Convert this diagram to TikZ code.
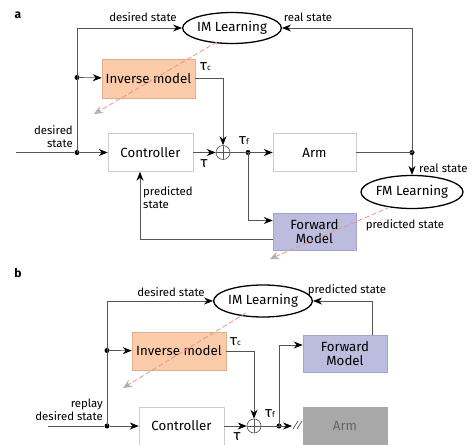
\documentclass[tikz,border=0pt]{standalone}
\usepackage{fontspec}
\setmainfont{Fira Sans}
\usetikzlibrary{arrows.meta,shapes.geometric,calc}
\definecolor{ln}{HTML}{555555}
\definecolor{peach}{HTML}{FCCBA9}
\definecolor{peachb}{HTML}{E3AE8C}
\definecolor{lav}{HTML}{BCBCDF}
\definecolor{lavb}{HTML}{A3A3CF}
\definecolor{boxb}{HTML}{CCCCCC}
\definecolor{redd}{HTML}{EE9090}
\definecolor{armg}{HTML}{A8A8A8}
\newcommand{\tauc}[1]{{\fontsize{15}{15}\selectfont τ}{\fontsize{8}{8}\selectfont #1}}
\tikzset{
  boxtxt/.style={font=\fontsize{13.3}{14.5}\selectfont},
  lbl/.style={font=\fontsize{11.4}{12.8}\selectfont, inner sep=0pt},
  blk/.style={draw=boxb, line width=0.6pt, rectangle, boxtxt, inner sep=0pt, align=center},
  invbox/.style={blk, fill=peach, draw=peachb},
  fwbox/.style={blk, fill=lav, draw=lavb},
  armbox/.style={blk, fill=armg, draw=armg, text=black!60},
  learn/.style={ellipse, draw=black, line width=1.3pt, boxtxt, inner sep=0pt},
  conn/.style={draw=ln, line width=0.7pt, -{Stealth[length=9pt,width=7pt,inset=3pt,color=black]}},
  plain/.style={draw=ln, line width=0.7pt},
  dotn/.style={circle, fill=black, inner sep=0pt, minimum size=5pt},
  sumn/.style={circle, draw=ln, line width=0.6pt, minimum size=14pt, inner sep=0pt,
    path picture={\draw[ln, line width=0.6pt] (path picture bounding box.north) -- (path picture bounding box.south) (path picture bounding box.west) -- (path picture bounding box.east);}},
  learnarrow/.style={draw=redd, line width=0.8pt, dash pattern=on 5pt off 2.5pt, -{Stealth[length=9pt,width=8pt,inset=3pt,color=black!30]}},
  taul/.style={inner sep=0pt},
  panel/.style={font=\bfseries\fontsize{12}{14}\selectfont},
}
\begin{document}
\begin{tikzpicture}[x=1pt,y=-1pt]
\useasboundingbox (0,0) rectangle (473,444);
\clip (0,0) rectangle (473,444);
% ---------------- panel a ----------------
\node[panel] (pa) at (18,15) {a};
\node[learn, minimum width=85pt, minimum height=31pt] (ima) at (232,28) {IM Learning};
\node[invbox, minimum width=93pt, minimum height=39pt] (inva) at (148.5,78.5) {Inverse model};
\node[blk, minimum width=85pt, minimum height=38pt] (ctla) at (150.5,152.5) {Controller};
\node[sumn] (suma) at (223,152.5) {};
\node[blk, minimum width=83pt, minimum height=38pt] (arma) at (314.5,152.5) {Arm};
\node[learn, minimum width=87pt, minimum height=33pt] (fma) at (412,192) {FM Learning};
\node[fwbox, minimum width=83pt, minimum height=37pt] (fwa) at (314.5,231.5) {Forward\\[-1pt]Model};
\node[dotn] (ja1) at (77,77.5) {};
\node[dotn] (ja2) at (77,152.5) {};
\node[dotn] (jta) at (248,152.5) {};
\node[dotn] (jra) at (412,152.5) {};
\coordinate (sa) at (16,152.5);
\coordinate (dla1) at (217,42);
\coordinate (dla2) at (94,114);
\coordinate (dfa1) at (390,207);
\coordinate (dfa2) at (270,259);

\draw[plain] (sa) -- (ja2);
\draw[conn] (ja2) -- (ctla);
\draw[conn] (ja2.center) |- (ima.west);
\draw[conn] (ja1) -- (inva);
\draw[conn] (inva.east) -| (suma.north);
\draw[conn] (ctla.east) -- (suma.west);
\draw[conn] (suma.east) -- (arma.west);
\draw[conn] (jta.center) |- ([yshift=11pt]fwa.west);
\draw[plain] (arma.east) -- (jra.center);
\draw[conn] (jra.center) |- (ima.east);
\draw[conn] (jra) -- (fma.north);
\draw[conn] ([yshift=-7.5pt]fwa.west) -| ([xshift=-10.5pt]ctla.south);
\draw[learnarrow] (dla1) -- (dla2);
\draw[learnarrow] (dfa1) -- (dfa2);

\node[lbl] (la1) at (143,17) {desired state};
\node[lbl] (la2) at (308,17) {real state};
\node[taul, anchor=west] (la3) at (200,67) {\tauc{c}};
\node[lbl, align=right, anchor=east] (la4) at (73,137) {desired\\state};
\node[taul] (la5) at (204,164) {\tauc{}};
\node[taul] (la6) at (244,141) {\tauc{f}};
\node[lbl, anchor=west] (la7) at (419,168) {real state};
\node[lbl] (la8) at (405,225) {predicted state};
\node[lbl, align=left, anchor=west] (la9) at (143,198) {predicted\\state};

% ---------------- panel b ----------------
\node[panel] (pb) at (18,273) {b};
\node[learn, minimum width=82pt, minimum height=32pt] (imb) at (263,301) {IM Learning};
\node[invbox, minimum width=94pt, minimum height=38pt] (invb) at (179,351) {Inverse model};
\node[fwbox, minimum width=84pt, minimum height=37pt] (fwb) at (345,353.5) {Forward\\[-1pt]Model};
\node[blk, minimum width=85pt, minimum height=38pt] (ctlb) at (181.5,426) {Controller};
\node[sumn] (sumb) at (254,426) {};
\node[armbox, minimum width=84pt, minimum height=38pt] (armb) at (345,426) {Arm};
\node[dotn] (jb1) at (107,350.5) {};
\node[dotn] (jb2) at (107,426) {};
\node[dotn] (jtb) at (279,426) {};
\coordinate (sb) at (48,426);
\coordinate (cutb) at (292,426);
\coordinate (dlb1) at (246,313);
\coordinate (dlb2) at (123,388);

\draw[plain] (sb) -- (jb2);
\draw[conn] (jb2) -- (ctlb);
\draw[conn] (jb2.center) |- (imb.west);
\draw[conn] (jb1) -- (invb);
\draw[conn] (invb.east) -| (sumb.north);
\draw[conn] (ctlb.east) -- (sumb.west);
\draw[conn] (sumb.east) -- (cutb);
\draw[conn] (jtb.center) |- ([yshift=8.5pt]fwb.west);
\draw[conn] ([xshift=27pt]fwb.north) |- (imb.east);
\draw[plain] (293,429) -- (298,421) (297,429) -- (302,421);
\draw[learnarrow] (dlb1) -- (dlb2);

\node[lbl] (lb1) at (171,292) {desired state};
\node[lbl] (lb2) at (347,290) {predicted state};
\node[taul, anchor=west] (lb3) at (230,342) {\tauc{c}};
\node[lbl, align=right, anchor=east] (lb4) at (103,410) {replay\\desired state};
\node[taul] (lb5) at (237,437) {\tauc{}};
\node[taul] (lb6) at (270,414) {\tauc{f}};
\end{tikzpicture}
\end{document}
